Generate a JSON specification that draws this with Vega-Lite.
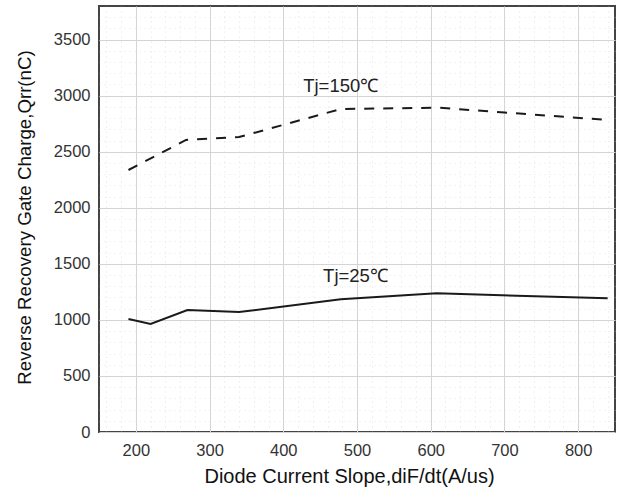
{
  "$schema": "https://vega.github.io/schema/vega-lite/v6.json",
  "width": 516,
  "height": 426,
  "autosize": {"type": "none"},
  "padding": {"left": 99, "top": 6, "right": 4, "bottom": 59},
  "background": "white",
  "config": {
    "font": "Liberation Sans",
    "view": {"stroke": "#444444", "strokeWidth": 2},
    "axis": {
      "domain": false,
      "ticks": false,
      "tickSize": 0,
      "labelFont": "Liberation Sans",
      "labelFontSize": 16.5,
      "labelColor": "#333333",
      "titleFont": "Liberation Sans",
      "titleFontSize": 18.7,
      "titleFontWeight": "normal",
      "titleColor": "#111111",
      "gridColor": {"condition": {"test": "datum.value % 100 === 0", "value": "#d4d4d4"}, "value": "#c8c8c8"},
      "gridWidth": 1
    }
  },
  "datasets": {
    "curves": [
      {"slope": 190, "qrr": 2337, "tj": "150"},
      {"slope": 268, "qrr": 2605, "tj": "150"},
      {"slope": 340, "qrr": 2631, "tj": "150"},
      {"slope": 478, "qrr": 2881, "tj": "150"},
      {"slope": 612, "qrr": 2893, "tj": "150"},
      {"slope": 700, "qrr": 2850, "tj": "150"},
      {"slope": 840, "qrr": 2783, "tj": "150"},
      {"slope": 190, "qrr": 1008, "tj": "25"},
      {"slope": 220, "qrr": 963, "tj": "25"},
      {"slope": 270, "qrr": 1088, "tj": "25"},
      {"slope": 340, "qrr": 1070, "tj": "25"},
      {"slope": 478, "qrr": 1184, "tj": "25"},
      {"slope": 608, "qrr": 1237, "tj": "25"},
      {"slope": 840, "qrr": 1193, "tj": "25"}
    ],
    "labels": [
      {"slope": 427, "qrr": 3033, "text": "Tj=150℃"},
      {"slope": 454, "qrr": 1338, "text": "Tj=25℃"}
    ]
  },
  "encoding": {
    "x": {
      "field": "slope",
      "type": "quantitative",
      "scale": {"domain": [150, 850], "nice": false, "zero": false},
      "axis": {
        "title": "Diode Current Slope,diF/dt(A/us)",
        "titleFontSize": 20,
        "values": [160, 180, 200, 220, 240, 260, 280, 300, 320, 340, 360, 380, 400, 420, 440, 460, 480, 500, 520, 540, 560, 580, 600, 620, 640, 660, 680, 700, 720, 740, 760, 780, 800, 820, 840],
        "format": "d",
        "labelExpr": "datum.value % 100 === 0 ? datum.label : ''",
        "labelPadding": 10,
        "gridDash": {"condition": {"test": "datum.value % 100 === 0", "value": []}, "value": [1, 4]},
        "gridOpacity": {"condition": {"test": "datum.value % 100 === 0", "value": 1}, "value": 0.5},
        "titleX": 250,
        "titleY": 50,
        "titleBaseline": "alphabetic",
        "titleAnchor": null
      }
    },
    "y": {
      "field": "qrr",
      "type": "quantitative",
      "scale": {"domain": [0, 3800], "nice": false},
      "axis": {
        "title": "Reverse Recovery Gate Charge,Qrr(nC)",
        "values": [0, 100, 200, 300, 400, 500, 600, 700, 800, 900, 1000, 1100, 1200, 1300, 1400, 1500, 1600, 1700, 1800, 1900, 2000, 2100, 2200, 2300, 2400, 2500, 2600, 2700, 2800, 2900, 3000, 3100, 3200, 3300, 3400, 3500, 3600, 3700],
        "format": "d",
        "labelExpr": "datum.value % 500 === 0 ? datum.label : ''",
        "labelPadding": 9,
        "gridDash": {"condition": {"test": "datum.value % 500 === 0", "value": []}, "value": [1, 4]},
        "gridOpacity": {"condition": {"test": "datum.value % 500 === 0", "value": 1}, "value": 0.5},
        "titleX": -75,
        "titleY": 211,
        "titleAngle": -90,
        "titleBaseline": "middle",
        "titleAlign": "center",
        "titleAnchor": null
      }
    }
  },
  "layer": [
    {
      "data": {"name": "curves"},
      "transform": [{"filter": "datum.tj === '150'"}],
      "mark": {"type": "line", "color": "#1a1a1a", "strokeWidth": 2, "strokeDash": [10, 9]}
    },
    {
      "data": {"name": "curves"},
      "transform": [{"filter": "datum.tj === '25'"}],
      "mark": {"type": "line", "color": "#1a1a1a", "strokeWidth": 2}
    },
    {
      "data": {"name": "labels"},
      "mark": {"type": "text", "align": "left", "baseline": "alphabetic", "fontSize": 18.5, "color": "#222222", "font": "Liberation Sans"},
      "encoding": {"text": {"field": "text"}}
    }
  ]
}
